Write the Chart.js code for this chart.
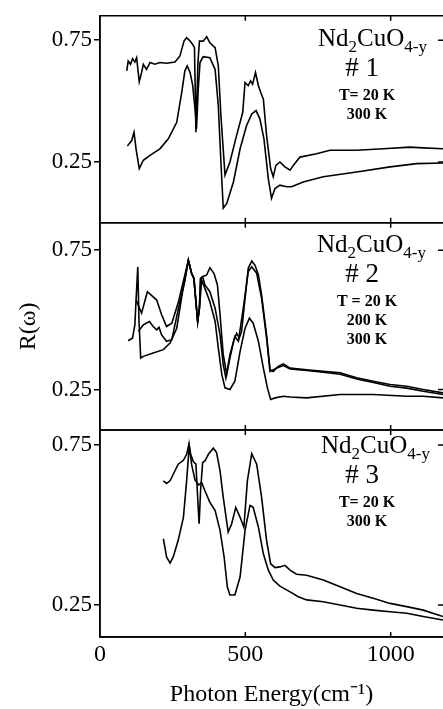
<!DOCTYPE html>
<html>
<head>
<meta charset="utf-8">
<script src="https://cdn.jsdelivr.net/npm/chart.js@4.4.0/dist/chart.umd.min.js"></script>
<style>
	html, body { margin: 0; padding: 0; background: #fff; }
	canvas { display: block; }
</style>
</head>
<body>
<canvas id="refl_chart" width="443" height="709"></canvas>
<script>
// x axis ticks (photon energy, cm-1)
var xTicks = [0, 500, 1000];
var xTickLabels = ['0', '500', '1000'];
// y axis ticks, same on every panel
var yTicks = [0.25, 0.75];
var yTickLabels = ['0.25', '0.75'];

// panel #1
var p1_upper_x = [92, 97, 105, 112, 120, 126, 135, 143, 149, 160, 172, 189, 206, 229, 258, 275, 289, 298, 310, 319, 325, 330, 337, 342, 355, 367, 378, 396, 407, 416, 430, 447, 470, 491, 499, 510, 518, 525, 535, 545, 553, 562, 573, 587, 596, 605, 619, 636, 654, 665, 688, 745, 791, 883, 975, 1066, 1112, 1180];
var p1_upper_y = [0.624, 0.664, 0.651, 0.674, 0.660, 0.678, 0.579, 0.617, 0.651, 0.630, 0.658, 0.651, 0.658, 0.655, 0.660, 0.685, 0.746, 0.760, 0.746, 0.732, 0.719, 0.372, 0.658, 0.746, 0.746, 0.764, 0.739, 0.719, 0.644, 0.440, 0.196, 0.250, 0.359, 0.454, 0.576, 0.563, 0.583, 0.569, 0.617, 0.563, 0.535, 0.508, 0.359, 0.223, 0.189, 0.236, 0.250, 0.230, 0.216, 0.236, 0.270, 0.284, 0.298, 0.298, 0.304, 0.311, 0.308, 0.304];
var p1_lower_x = [94, 109, 117, 124, 135, 149, 172, 206, 235, 264, 281, 292, 300, 310, 319, 328, 332, 338, 344, 355, 378, 396, 407, 416, 424, 436, 459, 482, 504, 522, 537, 550, 564, 579, 590, 602, 619, 642, 659, 699, 768, 883, 998, 1089, 1180];
var p1_lower_y = [0.315, 0.338, 0.372, 0.304, 0.223, 0.257, 0.277, 0.304, 0.345, 0.413, 0.535, 0.624, 0.644, 0.617, 0.563, 0.454, 0.386, 0.549, 0.658, 0.682, 0.678, 0.630, 0.481, 0.250, 0.060, 0.080, 0.168, 0.304, 0.399, 0.447, 0.461, 0.427, 0.345, 0.182, 0.101, 0.141, 0.155, 0.148, 0.148, 0.168, 0.189, 0.209, 0.230, 0.243, 0.246];

// panel #2
var p2_upper_x = [124, 143, 163, 195, 212, 229, 247, 270, 292, 304, 315, 323, 330, 336, 342, 346, 353, 367, 378, 392, 404, 413, 424, 436, 447, 461, 470, 479, 487, 499, 510, 522, 533, 545, 556, 573, 585, 596, 613, 631, 654, 711, 768, 826, 883, 940, 998, 1055, 1112, 1180];
var p2_upper_y = [0.571, 0.524, 0.601, 0.571, 0.518, 0.476, 0.488, 0.565, 0.661, 0.714, 0.667, 0.649, 0.565, 0.494, 0.542, 0.649, 0.655, 0.661, 0.687, 0.667, 0.625, 0.518, 0.375, 0.304, 0.363, 0.429, 0.452, 0.435, 0.458, 0.577, 0.685, 0.711, 0.696, 0.661, 0.589, 0.446, 0.321, 0.315, 0.333, 0.342, 0.327, 0.321, 0.315, 0.310, 0.292, 0.280, 0.268, 0.262, 0.250, 0.238];
var p2_middle_x = [132, 149, 170, 183, 195, 203, 212, 229, 247, 270, 292, 304, 315, 323, 330, 336, 342, 346, 353, 361, 378, 396, 413, 424, 433, 447, 464, 476, 493, 510, 522, 539, 556, 573, 585, 608, 631, 654, 711, 768, 826, 883, 940, 998, 1055, 1112, 1180];
var p2_middle_y = [0.458, 0.482, 0.494, 0.476, 0.464, 0.473, 0.446, 0.423, 0.429, 0.542, 0.640, 0.714, 0.667, 0.649, 0.565, 0.494, 0.542, 0.649, 0.655, 0.625, 0.601, 0.542, 0.446, 0.339, 0.292, 0.375, 0.440, 0.423, 0.542, 0.673, 0.690, 0.667, 0.577, 0.435, 0.315, 0.327, 0.336, 0.324, 0.318, 0.312, 0.305, 0.288, 0.275, 0.262, 0.255, 0.244, 0.232];
var p2_lower_x = [97, 112, 120, 124, 130, 134, 140, 149, 183, 218, 241, 264, 284, 304, 315, 323, 330, 336, 342, 350, 361, 378, 396, 407, 419, 430, 447, 464, 482, 499, 514, 527, 545, 562, 576, 587, 602, 631, 654, 711, 826, 940, 1055, 1112, 1180];
var p2_lower_y = [0.425, 0.435, 0.482, 0.571, 0.690, 0.500, 0.363, 0.369, 0.381, 0.393, 0.417, 0.470, 0.601, 0.714, 0.667, 0.649, 0.565, 0.494, 0.542, 0.643, 0.613, 0.565, 0.494, 0.399, 0.304, 0.256, 0.250, 0.280, 0.387, 0.470, 0.506, 0.488, 0.423, 0.327, 0.256, 0.214, 0.220, 0.226, 0.223, 0.220, 0.232, 0.232, 0.226, 0.226, 0.220];

// panel #3
var p3_upper_x = [218, 229, 241, 255, 269, 287, 298, 306, 312, 321, 330, 336, 341, 346, 353, 361, 373, 390, 401, 413, 424, 441, 453, 467, 482, 495, 507, 522, 539, 556, 573, 587, 602, 619, 636, 654, 676, 711, 768, 826, 883, 940, 998, 1055, 1112, 1180];
var p3_upper_y = [0.638, 0.630, 0.638, 0.664, 0.690, 0.702, 0.721, 0.752, 0.721, 0.698, 0.690, 0.586, 0.504, 0.607, 0.695, 0.700, 0.721, 0.740, 0.726, 0.669, 0.586, 0.478, 0.504, 0.555, 0.524, 0.493, 0.638, 0.723, 0.690, 0.586, 0.452, 0.379, 0.367, 0.369, 0.374, 0.359, 0.346, 0.343, 0.328, 0.307, 0.286, 0.271, 0.255, 0.245, 0.234, 0.214];
var p3_lower_x = [218, 229, 241, 252, 269, 287, 298, 307, 315, 327, 340, 350, 361, 378, 396, 413, 427, 438, 447, 464, 482, 499, 516, 527, 545, 562, 579, 596, 619, 654, 682, 711, 768, 826, 883, 940, 998, 1055, 1112, 1180];
var p3_lower_y = [0.457, 0.400, 0.381, 0.400, 0.452, 0.524, 0.638, 0.747, 0.690, 0.640, 0.625, 0.632, 0.607, 0.571, 0.545, 0.483, 0.400, 0.307, 0.281, 0.281, 0.338, 0.483, 0.561, 0.555, 0.493, 0.410, 0.359, 0.328, 0.309, 0.291, 0.276, 0.266, 0.260, 0.250, 0.240, 0.234, 0.229, 0.224, 0.214, 0.203];

// panel texts
var panelIds = ['y1', 'y2', 'y3'];
var sampleNames = ['# 1', '# 2', '# 3'];
var sampleTemps = [
	['T= 20 K', '300 K'],
	['T = 20 K', '200 K', '300 K'],
	['T= 20 K', '300 K']
];

function toPoints(xs, ys){
	/*
	Pairs up an energy list and a reflectance list.
	:param: xs, ys.
	:return: list of {x, y}.
	*/
	var pts = [];
	for (var i = 0; i < xs.length; i++) {
		pts.push({x: xs[i], y: ys[i]});
	}
	return pts;
}

function curve(xs, ys, axis){
	return {
		data: toPoints(xs, ys),
		yAxisID: axis,
		borderColor: '#000',
		borderWidth: 1.6,
		pointRadius: 0,
		tension: 0,
		fill: false
	};
}

function yScale(min, max, weight){
	return {
		type: 'linear',
		position: 'left',
		stack: 'panels',
		stackWeight: 1,
		weight: weight,
		min: min,
		max: max,
		afterBuildTicks: function(scale){
			scale.ticks = yTicks.map(function(v){ return {value: v}; });
		},
		afterFit: function(scale){
			scale.width = 100;
		},
		ticks: {
			color: '#000',
			padding: 2,
			font: {family: 'Liberation Serif', size: 23},
			callback: function(value){ return yTickLabels[yTicks.indexOf(value)]; }
		},
		grid: {
			drawOnChartArea: false,
			drawTicks: true,
			tickLength: 6,
			color: '#000',
			lineWidth: 1.5
		},
		border: {display: true, color: '#000', width: 1.5}
	};
}

// frame round each panel, with inward ticks on top, bottom and right
const panelFrame = {
	id: 'panelFrame',
	afterDatasetsDraw(chart){
		const ctx = chart.ctx;
		const xs = chart.scales.x;
		ctx.save();
		ctx.strokeStyle = '#000';
		ctx.lineWidth = 1.5;
		panelIds.forEach(function(id){
			const ys = chart.scales[id];
			ctx.beginPath();
			ctx.moveTo(xs.right, ys.top);
			ctx.lineTo(xs.left, ys.top);
			ctx.lineTo(xs.left, ys.bottom);
			ctx.lineTo(xs.right, ys.bottom);
			xTicks.slice(1).forEach(function(v){
				const px = xs.getPixelForValue(v);
				ctx.moveTo(px, ys.top);
				ctx.lineTo(px, ys.top + 5);
				ctx.moveTo(px, ys.bottom);
				ctx.lineTo(px, ys.bottom - 5);
			});
			yTicks.forEach(function(v){
				const py = ys.getPixelForValue(v);
				ctx.moveTo(xs.right, py);
				ctx.lineTo(xs.right - 5, py);
			});
			ctx.stroke();
		});
		ctx.restore();
	}
};

// sample formula and temperatures in the top right of each panel
const panelNotes = {
	id: 'panelNotes',
	afterDraw(chart){
		const ctx = chart.ctx;
		const formulaTop = [30, 29, 23];
		const formulaLeft = [318, 317, 321];
		ctx.save();
		ctx.fillStyle = '#000';
		ctx.textBaseline = 'alphabetic';
		panelIds.forEach(function(id, i){
			const top = chart.scales[id].top;
			const base = top + formulaTop[i];
			// Nd2CuO4-y
			var x = formulaLeft[i];
			var parts = [['Nd', false], ['2', true], ['CuO', false], ['4-y', true]];
			ctx.textAlign = 'left';
			parts.forEach(function(p){
				ctx.font = p[1] ? '17px "Liberation Serif"' : '25px "Liberation Serif"';
				ctx.fillText(p[0], x, base + (p[1] ? 6 : 0));
				x += ctx.measureText(p[0]).width;
			});
			ctx.textAlign = 'center';
			ctx.font = '27px "Liberation Serif"';
			ctx.fillText(sampleNames[i], 362, base + 30);
			ctx.font = 'bold 16px "Liberation Serif"';
			sampleTemps[i].forEach(function(t, j){
				ctx.fillText(t, 367, base + 54 + j * 19);
			});
		});
		ctx.restore();
	}
};

const ctx = document.getElementById('refl_chart').getContext('2d');
const refl_chart = new Chart(ctx, {
	type: 'line',
	data: {
		datasets: [
			curve(p1_upper_x, p1_upper_y, 'y1'),
			curve(p1_lower_x, p1_lower_y, 'y1'),
			curve(p2_upper_x, p2_upper_y, 'y2'),
			curve(p2_middle_x, p2_middle_y, 'y2'),
			curve(p2_lower_x, p2_lower_y, 'y2'),
			curve(p3_upper_x, p3_upper_y, 'y3'),
			curve(p3_lower_x, p3_lower_y, 'y3')
		]
	},
	options: {
		responsive: false,
		animation: false,
		layout: {padding: {top: 13, right: 0, left: 0, bottom: 0}},
		scales: {
			x: {
				type: 'linear',
				position: 'bottom',
				min: 0,
				max: 1180,
				afterBuildTicks: function(scale){
					scale.ticks = xTicks.map(function(v){ return {value: v}; });
				},
				afterFit: function(scale){
					scale.height = 72;
				},
				ticks: {
					color: '#000',
					padding: 3,
					maxRotation: 0,
					font: {family: 'Liberation Serif', size: 24},
					callback: function(value){ return xTickLabels[xTicks.indexOf(value)]; }
				},
				grid: {drawOnChartArea: false, drawTicks: false},
				border: {display: true, color: '#000', width: 1.5},
				title: {
					display: true,
					text: 'Photon Energy(cm\u207B\u00B9)',
					color: '#000',
					padding: {top: 0, bottom: 0},
					font: {family: 'Liberation Serif', size: 24}
				}
			},
			y1: yScale(0, 0.85, 3),
			y2: Object.assign(yScale(0.105, 0.848, 2), {
				title: {
					display: true,
					text: 'R(\u03C9)',
					color: '#000',
					padding: {top: 14, bottom: 0},
					font: {family: 'Liberation Serif', size: 24}
				}
			}),
			y3: yScale(0.15, 0.797, 1)
		},
		plugins: {
			legend: {display: false},
			tooltip: {enabled: false}
		}
	},
	plugins: [panelFrame, panelNotes]
});
</script>
</body>
</html>
